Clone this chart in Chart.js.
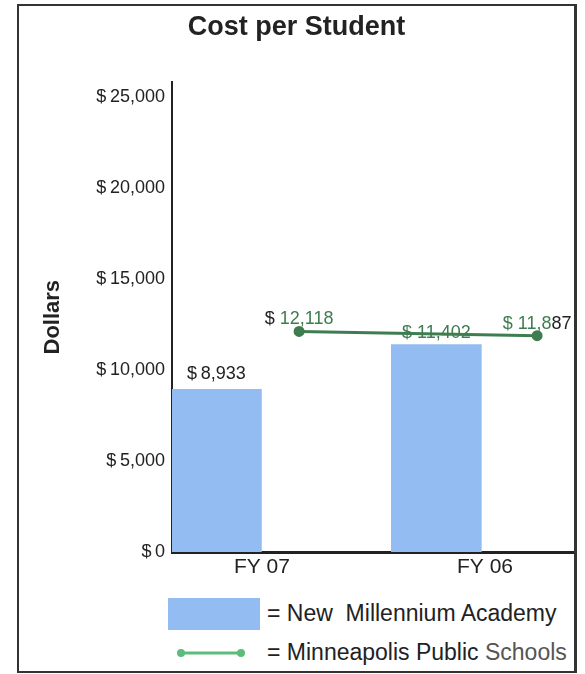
<!DOCTYPE html>
<html>
<head>
<meta charset="utf-8">
<title>Cost per Student</title>
<script src="https://cdn.jsdelivr.net/npm/chart.js@4"></script>
<style>
  body { margin: 0; background: #fff; font-family: "Liberation Sans", Arial, sans-serif; }
  .frame {
    position: absolute; left: 17px; top: 4px; width: 555px; height: 665px;
    border: 2px solid #333; border-right-width: 3px; background: #fff;
  }
  .chart-box { position: absolute; left: 0; top: 0; width: 555px; height: 581px; }
  .key { position: absolute; left: 0; width: 555px; color: #222; font-size: 23px; white-space: pre; }
  .key .swatch { position: absolute; }
</style>
</head>
<body>
<div class="frame">
  <div class="chart-box"><canvas id="costChart"></canvas></div>
  <div class="key" style="top:592px; height:32px;">
    <span class="swatch" style="left:149px; top:0; width:92px; height:32px; background:#93bcf2;"></span>
    <span style="position:absolute; left:248px; top:2px;">= New  Millennium Academy</span>
  </div>
  <div class="key" style="top:634px; height:28px;">
    <svg class="swatch" style="left:156px; top:6px;" width="72" height="14">
      <line x1="6" y1="7" x2="66" y2="7" stroke="#5dbb7c" stroke-width="3"/>
      <circle cx="6" cy="7" r="4" fill="#5dbb7c"/>
      <circle cx="66" cy="7" r="4" fill="#5dbb7c"/>
    </svg>
    <span style="position:absolute; left:248px; top:-1px;">= Minneapolis Public <span style="color:#555">Schools</span></span>
  </div>
</div>

<script>
const years = ['FY 07', 'FY 06'];
const academyCost = [8933, 11402];
const mpsCost = [12118, 11887];
const yTicks = [0, 5000, 10000, 15000, 20000, 25000];

const GREEN = '#3e7d50';
const DARK = '#222';
const FONT = '"Liberation Sans", Arial, sans-serif';

const moneyThin = v => '$\u2009' + v.toLocaleString('en-US');
const moneySpaced = v => '$ ' + v.toLocaleString('en-US');

// value labels; some print the dollar sign or the last digits in black
const valueLabels = {
  id: 'valueLabels',
  afterDatasetsDraw(chart, args, opts) {
    const ctx = chart.ctx;
    ctx.save();
    ctx.font = '18px ' + FONT;
    ctx.textBaseline = 'bottom';
    ctx.textAlign = 'left';
    opts.items.forEach(item => {
      const el = chart.getDatasetMeta(item.dataset).data[item.index];
      const value = chart.data.datasets[item.dataset].data[item.index];
      const text = item.format(typeof value === 'object' ? value.y : value);
      const head = item.darkHead || 0;
      const tail = item.darkTail || 0;
      const parts = [
        [text.slice(0, head), DARK],
        [text.slice(head, text.length - tail), item.color],
        [text.slice(text.length - tail), DARK]
      ];
      let x = el.x - ctx.measureText(text).width / 2;
      const y = el.y - item.gap;
      parts.forEach(([t, c]) => {
        if (!t) return;
        ctx.fillStyle = c;
        ctx.fillText(t, x, y);
        x += ctx.measureText(t).width;
      });
    });
    ctx.restore();
  }
};

new Chart(document.getElementById('costChart'), {
  type: 'bar',
  data: {
    labels: years,
    datasets: [
      {
        label: 'New Millennium Academy',
        data: academyCost.map((v, i) => ({ x: i, y: v })),
        xAxisID: 'xBar',
        backgroundColor: '#93bcf2',
        borderWidth: 0,
        barThickness: 90,
        grouped: false
      },
      {
        type: 'line',
        label: 'Minneapolis Public Schools',
        data: mpsCost.map((v, i) => ({ x: i, y: v })),
        xAxisID: 'xLine',
        borderColor: GREEN,
        backgroundColor: GREEN,
        borderWidth: 3,
        pointRadius: 4,
        pointHoverRadius: 4,
        tension: 0
      }
    ]
  },
  options: {
    responsive: true,
    maintainAspectRatio: false,
    animation: false,
    layout: { autoPadding: false, padding: 0 },
    plugins: {
      legend: { display: false },
      tooltip: { enabled: false },
      title: {
        display: true,
        text: 'Cost per Student',
        color: DARK,
        font: { family: FONT, size: 27, weight: 'bold' },
        padding: { top: 5, bottom: 39 }
      },
      valueLabels: {
        items: [
          { dataset: 0, index: 0, format: moneyThin, color: DARK, gap: 6 },
          { dataset: 0, index: 1, format: moneySpaced, color: GREEN, gap: 2 },
          { dataset: 1, index: 0, format: moneySpaced, color: GREEN, gap: 3, darkHead: 1 },
          { dataset: 1, index: 1, format: moneySpaced, color: GREEN, gap: 3, darkTail: 2 }
        ]
      }
    },
    scales: {
      // visible year axis, one tick per fiscal year
      x: {
        type: 'linear',
        offset: false,
        min: -0.403,
        max: 1.399,
        grid: { display: false, drawTicks: false },
        border: { display: true, color: '#222', width: 3 },
        afterBuildTicks: scale => { scale.ticks = years.map((y, i) => ({ value: i })); },
        ticks: {
          color: DARK,
          font: { family: FONT, size: 21 },
          padding: 3,
          maxRotation: 0,
          callback: v => years[v]
        },
        afterFit: scale => { scale.height = 35; }
      },
      // hidden index axes that place the bars and the line points within each year
      xBar: {
        type: 'linear',
        display: false,
        offset: false,
        bounds: 'data',
        min: -0.202,
        max: 1.626
      },
      xLine: {
        type: 'linear',
        display: false,
        offset: false,
        bounds: 'data',
        min: -0.534,
        max: 1.155
      },
      y: {
        min: 0,
        max: 25800,
        grid: { display: false, drawTicks: false },
        border: { display: true, color: '#222', width: 2 },
        afterBuildTicks: scale => { scale.ticks = yTicks.map(v => ({ value: v })); },
        ticks: {
          color: DARK,
          font: { family: FONT, size: 18 },
          padding: 7,
          callback: v => moneyThin(v)
        },
        title: {
          display: true,
          text: 'Dollars',
          color: DARK,
          font: { family: FONT, size: 22, weight: 'bold' },
          padding: { top: 21, bottom: 0 }
        },
        afterFit: scale => { scale.width = 153; }
      }
    }
  },
  plugins: [valueLabels]
});
</script>
</body>
</html>
